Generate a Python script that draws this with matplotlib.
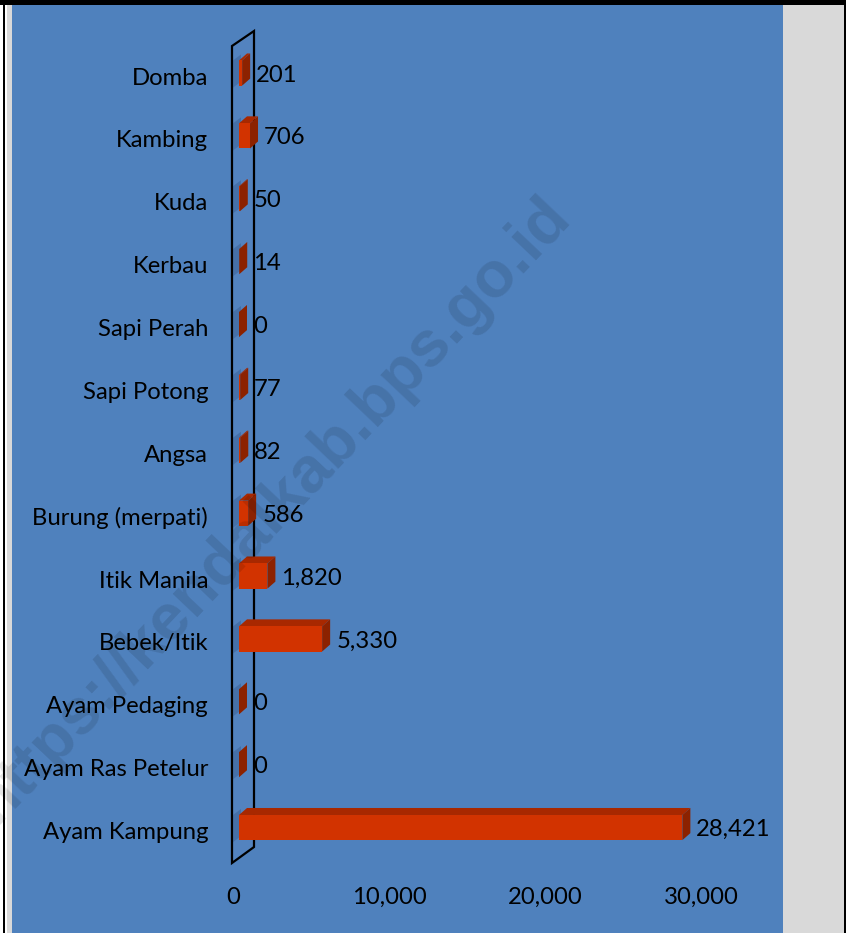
import matplotlib
matplotlib.use("Agg")
import matplotlib.pyplot as plt
from matplotlib.patches import Polygon, Rectangle

# ---------------- data ----------------
categories = ["Ayam Kampung", "Ayam Ras Petelur", "Ayam Pedaging", "Bebek/Itik",
              "Itik Manila", "Burung (merpati)", "Angsa", "Sapi Potong",
              "Sapi Perah", "Kerbau", "Kuda", "Kambing", "Domba"]
values = [28421, 0, 0, 5330, 1820, 586, 82, 77, 0, 14, 50, 706, 201]
value_labels = ["28,421", "0", "0", "5,330", "1,820", "586", "82", "77",
                "0", "14", "50", "706", "201"]
xticks = [0, 10000, 20000, 30000]
xtick_labels = ["0", "10,000", "20,000", "30,000"]

# ---------------- layout ----------------
W, H = 846, 933
BLUE = "#4F81BD"
GREY = "#D9D9D9"
FONT = "Lato"
FS = 17.2

fig = plt.figure(figsize=(W / 100, H / 100), dpi=100)
fig.patch.set_facecolor("white")


def fx(p):
    return p / W


def fy(p):
    return 1 - p / H


# background panels
fig.add_artist(Rectangle((fx(12), 0), fx(783) - fx(12), 1, transform=fig.transFigure,
                         facecolor=BLUE, edgecolor="none", zorder=0))
fig.add_artist(Rectangle((fx(783), 0), fx(844) - fx(783), 1, transform=fig.transFigure,
                         facecolor=GREY, edgecolor="none", zorder=0))
fig.add_artist(Rectangle((fx(7), 0), fx(12) - fx(7), 1, transform=fig.transFigure,
                         facecolor=GREY, edgecolor="none", zorder=0))
fig.add_artist(Rectangle((fx(3), 0), fx(2), 1, transform=fig.transFigure,
                         facecolor="black", edgecolor="none", zorder=0))
fig.add_artist(Rectangle((fx(844), 0), fx(2), 1, transform=fig.transFigure,
                         facecolor="black", edgecolor="none", zorder=0))
fig.add_artist(Rectangle((0, fy(5)), 1, 5 / H, transform=fig.transFigure,
                         facecolor="black", edgecolor="none", zorder=0))

# axes: x=0 at px 239, 30000 at px 707 ; rows span px 41.6 .. 859
ax_left, ax_right = 239, 707
ax_top, ax_bot = 41.6, 859
ax = fig.add_axes([fx(ax_left), fy(ax_bot), (ax_right - ax_left) / W, (ax_bot - ax_top) / H])
ax.set_xlim(0, 30000)
ax.set_ylim(-0.5, len(categories) - 0.5)
ax.axis("off")
ax.patch.set_alpha(0)

ux = 30000 / (ax_right - ax_left)          # data units per pixel (x)
uy = len(categories) / (ax_bot - ax_top)   # data units per pixel (y)

# back wall (3D floor of the category axis)
y0, y1 = -0.5, len(categories) - 0.5
wall = [(-7 * ux, y0 - 4 * uy), (-7 * ux, y1 - 4.4 * uy),
        (15 * ux, y1 + 10.6 * uy), (15 * ux, y0 + 12 * uy)]
ax.add_patch(Polygon(wall, closed=True, facecolor="#5383BF", edgecolor="black",
                     linewidth=1.6, zorder=1, clip_on=False))

# 3D bars
half = 0.2
dx, dy = 8 * ux, 7 * uy
for i, v in enumerate(values):
    # subtle shadow on wall
    ax.add_patch(Polygon([(-6 * ux, i - half - 2 * uy), (2 * ux, i - half + 4 * uy),
                          (2 * ux, i + half + 6 * uy), (-6 * ux, i + half)],
                         closed=True, facecolor="#2F4F7F", edgecolor="none",
                         alpha=0.35, zorder=2, clip_on=False))
    ax.add_patch(Rectangle((0, i - half), v, 2 * half, facecolor="#D23300",
                           edgecolor="none", zorder=4, clip_on=False))
    ax.add_patch(Polygon([(0, i + half), (v, i + half), (v + dx, i + half + dy),
                          (dx, i + half + dy)], closed=True, facecolor="#A82800",
                         edgecolor="none", zorder=3, clip_on=False))
    ax.add_patch(Polygon([(v, i - half), (v + dx, i - half + dy),
                          (v + dx, i + half + dy), (v, i + half)], closed=True,
                         facecolor="#8C2200", edgecolor="none", zorder=4, clip_on=False))
    ax.text(v + 14 * ux, i - 2 * uy, value_labels[i], ha="left", va="center",
            fontsize=FS, family=FONT, color="black", zorder=6)
    ax.text(-31 * ux, i - 5 * uy, categories[i], ha="right", va="center",
            fontsize=FS, family=FONT, color="black", zorder=6)

# x tick labels
for t, lab in zip(xticks, xtick_labels):
    ax.text(t - 6 * ux, -0.5 - 38 * uy, lab, ha="center", va="center",
            fontsize=FS, family=FONT, color="black", zorder=6)

# watermark (partly cut by the left edge, as in the original)
fig.text(fx(272), fy(510), "https://kendalkab.bps.go.id", rotation=46.5,
         rotation_mode="anchor", ha="center", va="center", fontsize=46.5,
         fontweight="bold", family="Liberation Sans", color="black", alpha=0.11,
         zorder=10)

fig.savefig("out.png", dpi=100, facecolor=fig.get_facecolor())
